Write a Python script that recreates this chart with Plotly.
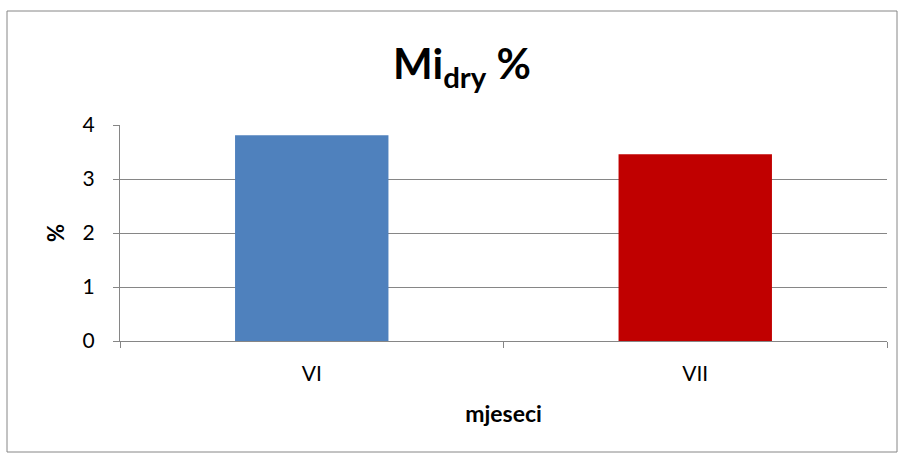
import plotly.graph_objects as go

categories = ["VI", "VII"]
values = [3.81, 3.46]
colors = ["#4F81BD", "#C00000"]
y_ticks = [0, 1, 2, 3, 4]

W, H = 903, 459
L, R, T, B = 120, 16, 125, 118
pw = W - L - R
ph = H - T - B

def px_x(x):
    return (x - L) / pw

def px_y(y):
    return (H - B - y) / ph

fig = go.Figure()
fig.add_trace(go.Bar(x=categories, y=values, marker=dict(color=colors, line=dict(width=0)),
                     width=0.4, showlegend=False))

fig.update_layout(
    width=W, height=H,
    margin=dict(l=L, r=R, t=T, b=B, autoexpand=False),
    paper_bgcolor="white", plot_bgcolor="white",
    font=dict(family="Lato, Open Sans, sans-serif", color="black"),
    title=dict(text="<b>Mi<sub>dry</sub> %</b>", x=px_x(462), xref="paper", xanchor="center",
               y=1 - 64 / H, yanchor="middle", font=dict(size=42, color="black")),
    xaxis=dict(
        showline=True, linecolor="#868686", linewidth=1,
        ticks="outside", tickson="boundaries", ticklen=6, tickcolor="#868686",
        tickfont=dict(size=21), showgrid=False, ticklabelstandoff=14,
        title=dict(text="<b>mjeseci</b>", font=dict(size=23), standoff=21),
    ),
    yaxis=dict(
        range=[0, 4], tickvals=y_ticks, showline=True, linecolor="#868686", linewidth=1,
        ticks="outside", ticklen=6, tickcolor="#868686",
        showgrid=True, gridcolor="#868686", gridwidth=1,
        tickfont=dict(size=21), zeroline=False, ticklabelstandoff=14,
        title=dict(text="<b>%</b>", font=dict(size=22), standoff=11),
    ),
    shapes=[dict(type="rect", xref="paper", yref="paper",
                 x0=px_x(7), x1=px_x(897), y0=px_y(452), y1=px_y(11),
                 line=dict(color="#868686", width=1), fillcolor="rgba(0,0,0,0)", layer="below")],
)

fig.write_html("out.html", config={"displayModeBar": False},
               post_script="document.body.style.margin='0';")
